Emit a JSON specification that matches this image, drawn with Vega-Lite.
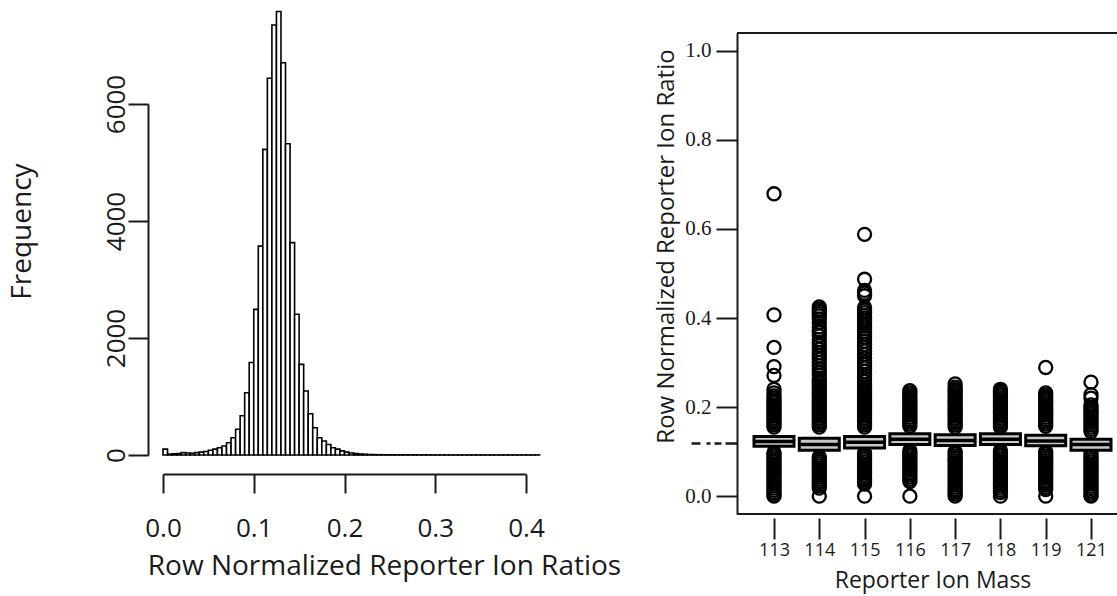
{
 "$schema": "https://vega.github.io/schema/vega-lite/v6.json",
 "padding": {"left": 8, "top": 10, "right": 0, "bottom": 4},
 "config": {"view": {"stroke": null}, "font": "Open Sans",
  "axis": {"grid": false, "domainColor": "#1a1a1a", "tickColor": "#1a1a1a", "labelColor": "#1a1a1a", "titleColor": "#1a1a1a", "titleFontWeight": "normal", "labelOverlap": false, "labelFlush": false}},
 "datasets": {
  "hist": [
   {"lo":0.000,"hi":0.005,"n":100},{"lo":0.005,"hi":0.010,"n":15},{"lo":0.010,"hi":0.015,"n":20},{"lo":0.015,"hi":0.020,"n":25},
   {"lo":0.020,"hi":0.025,"n":40},{"lo":0.025,"hi":0.030,"n":35},{"lo":0.030,"hi":0.035,"n":30},{"lo":0.035,"hi":0.040,"n":40},
   {"lo":0.040,"hi":0.045,"n":50},{"lo":0.045,"hi":0.050,"n":60},{"lo":0.050,"hi":0.055,"n":80},{"lo":0.055,"hi":0.060,"n":100},
   {"lo":0.060,"hi":0.065,"n":125},{"lo":0.065,"hi":0.070,"n":155},{"lo":0.070,"hi":0.075,"n":210},{"lo":0.075,"hi":0.080,"n":295},
   {"lo":0.080,"hi":0.085,"n":440},{"lo":0.085,"hi":0.090,"n":670},{"lo":0.090,"hi":0.095,"n":1065},{"lo":0.095,"hi":0.100,"n":1580},
   {"lo":0.100,"hi":0.105,"n":2490},{"lo":0.105,"hi":0.110,"n":3570},{"lo":0.110,"hi":0.115,"n":5225},{"lo":0.115,"hi":0.120,"n":6440},
   {"lo":0.120,"hi":0.125,"n":7350},{"lo":0.125,"hi":0.130,"n":7580},{"lo":0.130,"hi":0.135,"n":6705},{"lo":0.135,"hi":0.140,"n":5320},
   {"lo":0.140,"hi":0.145,"n":3630},{"lo":0.145,"hi":0.150,"n":2405},{"lo":0.150,"hi":0.155,"n":1550},{"lo":0.155,"hi":0.160,"n":1095},
   {"lo":0.160,"hi":0.165,"n":705},{"lo":0.165,"hi":0.170,"n":465},{"lo":0.170,"hi":0.175,"n":295},{"lo":0.175,"hi":0.180,"n":240},
   {"lo":0.180,"hi":0.185,"n":180},{"lo":0.185,"hi":0.190,"n":125},{"lo":0.190,"hi":0.195,"n":100},{"lo":0.195,"hi":0.200,"n":70},
   {"lo":0.200,"hi":0.205,"n":50},{"lo":0.205,"hi":0.210,"n":35},{"lo":0.210,"hi":0.215,"n":25},{"lo":0.215,"hi":0.220,"n":18},
   {"lo":0.220,"hi":0.225,"n":12},{"lo":0.225,"hi":0.230,"n":8},{"lo":0.230,"hi":0.235,"n":6},{"lo":0.235,"hi":0.240,"n":5},
   {"lo":0.240,"hi":0.245,"n":4},{"lo":0.245,"hi":0.250,"n":3},{"lo":0.250,"hi":0.255,"n":3},{"lo":0.255,"hi":0.260,"n":2},
   {"lo":0.260,"hi":0.265,"n":2},{"lo":0.265,"hi":0.270,"n":2},{"lo":0.270,"hi":0.275,"n":2},{"lo":0.275,"hi":0.280,"n":2},
   {"lo":0.280,"hi":0.285,"n":1},{"lo":0.285,"hi":0.290,"n":2},{"lo":0.290,"hi":0.295,"n":1},{"lo":0.295,"hi":0.300,"n":1},
   {"lo":0.300,"hi":0.305,"n":1},{"lo":0.305,"hi":0.310,"n":1},{"lo":0.310,"hi":0.315,"n":1},{"lo":0.315,"hi":0.320,"n":1},
   {"lo":0.320,"hi":0.325,"n":1},{"lo":0.325,"hi":0.330,"n":1},{"lo":0.330,"hi":0.335,"n":1},{"lo":0.335,"hi":0.340,"n":1},
   {"lo":0.340,"hi":0.345,"n":1},{"lo":0.345,"hi":0.350,"n":1},{"lo":0.350,"hi":0.355,"n":1},{"lo":0.355,"hi":0.360,"n":1},
   {"lo":0.360,"hi":0.365,"n":1},{"lo":0.365,"hi":0.370,"n":1},{"lo":0.370,"hi":0.375,"n":1},{"lo":0.375,"hi":0.380,"n":1},
   {"lo":0.380,"hi":0.385,"n":1},{"lo":0.385,"hi":0.390,"n":1},{"lo":0.390,"hi":0.395,"n":1},{"lo":0.395,"hi":0.400,"n":1},
   {"lo":0.400,"hi":0.405,"n":1},{"lo":0.405,"hi":0.410,"n":1},{"lo":0.410,"hi":0.415,"n":1}
  ],
  "box": [
   {"m":"113","q1":0.112,"med":0.123,"q3":0.134},
   {"m":"114","q1":0.103,"med":0.116,"q3":0.130},
   {"m":"115","q1":0.108,"med":0.121,"q3":0.134},
   {"m":"116","q1":0.116,"med":0.128,"q3":0.140},
   {"m":"117","q1":0.114,"med":0.125,"q3":0.138},
   {"m":"118","q1":0.116,"med":0.128,"q3":0.140},
   {"m":"119","q1":0.113,"med":0.124,"q3":0.137},
   {"m":"121","q1":0.103,"med":0.116,"q3":0.128}
  ],
  "pts": [
   {"m":"113","v":0.679},{"m":"113","v":0.407},{"m":"113","v":0.334},{"m":"113","v":0.291},{"m":"113","v":0.271},{"m":"113","v":0.24},{"m":"113","v":0.232},
   {"m":"113","v":0.225},{"m":"113","v":0.22},{"m":"113","v":0.215},{"m":"113","v":0.21},{"m":"113","v":0.205},{"m":"113","v":0.2},{"m":"113","v":0.195},{"m":"113","v":0.19},{"m":"113","v":0.185},{"m":"113","v":0.18},{"m":"113","v":0.175},{"m":"113","v":0.17},{"m":"113","v":0.165},{"m":"113","v":0.16},{"m":"113","v":0.155},
   {"m":"113","v":0.098},{"m":"113","v":0.093},{"m":"113","v":0.088},{"m":"113","v":0.083},{"m":"113","v":0.078},{"m":"113","v":0.073},{"m":"113","v":0.068},{"m":"113","v":0.063},{"m":"113","v":0.058},{"m":"113","v":0.053},{"m":"113","v":0.048},{"m":"113","v":0.043},{"m":"113","v":0.038},{"m":"113","v":0.033},{"m":"113","v":0.028},{"m":"113","v":0.023},{"m":"113","v":0.018},{"m":"113","v":0.013},{"m":"113","v":0.008},{"m":"113","v":0.003},{"m":"113","v":0.0},
   {"m":"114","v":0.425},{"m":"114","v":0.42},{"m":"114","v":0.415},{"m":"114","v":0.41},{"m":"114","v":0.405},{"m":"114","v":0.398},{"m":"114","v":0.39},{"m":"114","v":0.38},{"m":"114","v":0.372},{"m":"114","v":0.367},{"m":"114","v":0.36},{"m":"114","v":0.352},{"m":"114","v":0.345},{"m":"114","v":0.338},{"m":"114","v":0.33},{"m":"114","v":0.322},{"m":"114","v":0.315},{"m":"114","v":0.308},{"m":"114","v":0.3},{"m":"114","v":0.293},{"m":"114","v":0.285},{"m":"114","v":0.278},{"m":"114","v":0.272},{"m":"114","v":0.265},{"m":"114","v":0.26},{"m":"114","v":0.255},{"m":"114","v":0.25},{"m":"114","v":0.245},{"m":"114","v":0.24},{"m":"114","v":0.235},{"m":"114","v":0.23},{"m":"114","v":0.225},{"m":"114","v":0.22},{"m":"114","v":0.215},{"m":"114","v":0.21},{"m":"114","v":0.205},{"m":"114","v":0.2},{"m":"114","v":0.195},{"m":"114","v":0.19},{"m":"114","v":0.185},{"m":"114","v":0.18},{"m":"114","v":0.175},{"m":"114","v":0.17},{"m":"114","v":0.165},{"m":"114","v":0.16},{"m":"114","v":0.155},
   {"m":"114","v":0.088},{"m":"114","v":0.083},{"m":"114","v":0.078},{"m":"114","v":0.073},{"m":"114","v":0.068},{"m":"114","v":0.063},{"m":"114","v":0.058},{"m":"114","v":0.053},{"m":"114","v":0.048},{"m":"114","v":0.043},{"m":"114","v":0.038},{"m":"114","v":0.033},{"m":"114","v":0.028},{"m":"114","v":0.023},{"m":"114","v":0.018},{"m":"114","v":0.0},
   {"m":"115","v":0.588},{"m":"115","v":0.487},{"m":"115","v":0.462},{"m":"115","v":0.456},{"m":"115","v":0.45},
   {"m":"115","v":0.424},{"m":"115","v":0.418},{"m":"115","v":0.412},{"m":"115","v":0.406},{"m":"115","v":0.4},{"m":"115","v":0.394},{"m":"115","v":0.388},{"m":"115","v":0.382},{"m":"115","v":0.376},{"m":"115","v":0.37},{"m":"115","v":0.364},{"m":"115","v":0.356},{"m":"115","v":0.348},{"m":"115","v":0.34},{"m":"115","v":0.333},{"m":"115","v":0.326},{"m":"115","v":0.318},{"m":"115","v":0.31},{"m":"115","v":0.302},{"m":"115","v":0.295},{"m":"115","v":0.288},{"m":"115","v":0.28},{"m":"115","v":0.272},{"m":"115","v":0.265},{"m":"115","v":0.258},{"m":"115","v":0.25},{"m":"115","v":0.245},{"m":"115","v":0.24},{"m":"115","v":0.235},{"m":"115","v":0.23},{"m":"115","v":0.225},{"m":"115","v":0.22},{"m":"115","v":0.215},{"m":"115","v":0.21},{"m":"115","v":0.205},{"m":"115","v":0.2},{"m":"115","v":0.195},{"m":"115","v":0.19},{"m":"115","v":0.185},{"m":"115","v":0.18},{"m":"115","v":0.175},{"m":"115","v":0.17},{"m":"115","v":0.165},{"m":"115","v":0.16},{"m":"115","v":0.155},
   {"m":"115","v":0.097},{"m":"115","v":0.092},{"m":"115","v":0.087},{"m":"115","v":0.082},{"m":"115","v":0.077},{"m":"115","v":0.072},{"m":"115","v":0.067},{"m":"115","v":0.062},{"m":"115","v":0.057},{"m":"115","v":0.052},{"m":"115","v":0.047},{"m":"115","v":0.042},{"m":"115","v":0.037},{"m":"115","v":0.032},{"m":"115","v":0.027},{"m":"115","v":0.0},
   {"m":"116","v":0.237},{"m":"116","v":0.232},{"m":"116","v":0.227},{"m":"116","v":0.222},{"m":"116","v":0.217},{"m":"116","v":0.212},{"m":"116","v":0.207},{"m":"116","v":0.202},{"m":"116","v":0.197},{"m":"116","v":0.192},{"m":"116","v":0.187},{"m":"116","v":0.182},{"m":"116","v":0.177},{"m":"116","v":0.172},{"m":"116","v":0.167},{"m":"116","v":0.162},{"m":"116","v":0.157},
   {"m":"116","v":0.103},{"m":"116","v":0.098},{"m":"116","v":0.093},{"m":"116","v":0.088},{"m":"116","v":0.083},{"m":"116","v":0.078},{"m":"116","v":0.073},{"m":"116","v":0.068},{"m":"116","v":0.063},{"m":"116","v":0.058},{"m":"116","v":0.053},{"m":"116","v":0.048},{"m":"116","v":0.043},{"m":"116","v":0.038},{"m":"116","v":0.033},{"m":"116","v":0.0},
   {"m":"117","v":0.252},{"m":"117","v":0.245},{"m":"117","v":0.24},{"m":"117","v":0.235},{"m":"117","v":0.23},{"m":"117","v":0.225},{"m":"117","v":0.22},{"m":"117","v":0.215},{"m":"117","v":0.21},{"m":"117","v":0.205},{"m":"117","v":0.2},{"m":"117","v":0.195},{"m":"117","v":0.19},{"m":"117","v":0.185},{"m":"117","v":0.18},{"m":"117","v":0.175},{"m":"117","v":0.17},{"m":"117","v":0.165},{"m":"117","v":0.16},{"m":"117","v":0.155},
   {"m":"117","v":0.1},{"m":"117","v":0.095},{"m":"117","v":0.09},{"m":"117","v":0.085},{"m":"117","v":0.08},{"m":"117","v":0.075},{"m":"117","v":0.07},{"m":"117","v":0.065},{"m":"117","v":0.06},{"m":"117","v":0.055},{"m":"117","v":0.05},{"m":"117","v":0.045},{"m":"117","v":0.04},{"m":"117","v":0.035},{"m":"117","v":0.03},{"m":"117","v":0.025},{"m":"117","v":0.02},{"m":"117","v":0.015},{"m":"117","v":0.01},{"m":"117","v":0.005},{"m":"117","v":0.0},
   {"m":"118","v":0.24},{"m":"118","v":0.235},{"m":"118","v":0.23},{"m":"118","v":0.225},{"m":"118","v":0.22},{"m":"118","v":0.215},{"m":"118","v":0.21},{"m":"118","v":0.205},{"m":"118","v":0.2},{"m":"118","v":0.195},{"m":"118","v":0.19},{"m":"118","v":0.185},{"m":"118","v":0.18},{"m":"118","v":0.175},{"m":"118","v":0.17},{"m":"118","v":0.165},{"m":"118","v":0.16},{"m":"118","v":0.155},
   {"m":"118","v":0.103},{"m":"118","v":0.098},{"m":"118","v":0.093},{"m":"118","v":0.088},{"m":"118","v":0.083},{"m":"118","v":0.078},{"m":"118","v":0.073},{"m":"118","v":0.068},{"m":"118","v":0.063},{"m":"118","v":0.058},{"m":"118","v":0.053},{"m":"118","v":0.048},{"m":"118","v":0.043},{"m":"118","v":0.038},{"m":"118","v":0.033},{"m":"118","v":0.028},{"m":"118","v":0.023},{"m":"118","v":0.018},{"m":"118","v":0.013},{"m":"118","v":0.008},{"m":"118","v":0.0},
   {"m":"119","v":0.289},{"m":"119","v":0.232},{"m":"119","v":0.227},{"m":"119","v":0.222},{"m":"119","v":0.217},{"m":"119","v":0.212},{"m":"119","v":0.207},{"m":"119","v":0.202},{"m":"119","v":0.197},{"m":"119","v":0.192},{"m":"119","v":0.187},{"m":"119","v":0.182},{"m":"119","v":0.177},{"m":"119","v":0.172},{"m":"119","v":0.167},{"m":"119","v":0.162},{"m":"119","v":0.157},
   {"m":"119","v":0.1},{"m":"119","v":0.095},{"m":"119","v":0.09},{"m":"119","v":0.085},{"m":"119","v":0.08},{"m":"119","v":0.075},{"m":"119","v":0.07},{"m":"119","v":0.065},{"m":"119","v":0.06},{"m":"119","v":0.055},{"m":"119","v":0.05},{"m":"119","v":0.045},{"m":"119","v":0.04},{"m":"119","v":0.035},{"m":"119","v":0.03},{"m":"119","v":0.025},{"m":"119","v":0.02},{"m":"119","v":0.015},{"m":"119","v":0.0},
   {"m":"121","v":0.256},{"m":"121","v":0.228},{"m":"121","v":0.22},{"m":"121","v":0.205},{"m":"121","v":0.2},{"m":"121","v":0.195},{"m":"121","v":0.19},{"m":"121","v":0.185},{"m":"121","v":0.18},{"m":"121","v":0.175},{"m":"121","v":0.17},{"m":"121","v":0.165},{"m":"121","v":0.16},{"m":"121","v":0.155},{"m":"121","v":0.15},{"m":"121","v":0.145},
   {"m":"121","v":0.097},{"m":"121","v":0.092},{"m":"121","v":0.087},{"m":"121","v":0.082},{"m":"121","v":0.077},{"m":"121","v":0.072},{"m":"121","v":0.067},{"m":"121","v":0.062},{"m":"121","v":0.057},{"m":"121","v":0.052},{"m":"121","v":0.047},{"m":"121","v":0.042},{"m":"121","v":0.037},{"m":"121","v":0.032},{"m":"121","v":0.027},{"m":"121","v":0.022},{"m":"121","v":0.017},{"m":"121","v":0.012},{"m":"121","v":0.007},{"m":"121","v":0.002},{"m":"121","v":0.0}
  ]
 },
 "bounds": "flush",
 "spacing": 211,
 "hconcat": [
  {
   "width": 363, "height": 422,
   "data": {"name": "hist"},
   "mark": {"type": "bar", "fill": "white", "stroke": "black", "strokeWidth": 1.6},
   "encoding": {
    "x": {"field": "lo", "type": "quantitative",
     "scale": {"domain": [0, 0.4], "nice": false, "zero": false},
     "axis": {"values": [0, 0.1, 0.2, 0.3, 0.4], "format": ".1f", "offset": 19, "tickSize": 19, "tickWidth": 2, "domainWidth": 2,
      "labelFontSize": 26, "labelPadding": 43, "labelBaseline": "alphabetic",
      "title": "Row Normalized Reporter Ion Ratios", "titleFontSize": 28, "titleX": 221, "titleY": 100, "titleAlign": "center", "titleBaseline": "alphabetic"}},
    "x2": {"field": "hi"},
    "y": {"field": "n", "type": "quantitative",
     "scale": {"domain": [0, 6000], "range": [422, 71], "nice": false},
     "axis": {"values": [0, 2000, 4000, 6000], "format": "d", "offset": 15, "tickSize": 20, "tickWidth": 2, "domainWidth": 2,
      "labelAngle": -90, "labelAlign": "center", "labelBaseline": "alphabetic", "labelPadding": 4, "labelFontSize": 26,
      "title": "Frequency", "titleFontSize": 28, "titleAngle": -90, "titleX": -118, "titleY": 198, "titleAlign": "center", "titleBaseline": "alphabetic"}},
    "y2": {"datum": 0}
   }
  },
  {
   "width": 380, "height": 481,
   "layer": [
    {"data": {"name": "pts"},
     "mark": {"type": "point", "shape": "circle", "filled": false, "stroke": "black", "strokeWidth": 2.3, "size": 170, "opacity": 1},
     "encoding": {
      "x": {"field": "m", "type": "ordinal", "scale": {"type": "point", "range": [37, 354], "padding": 0},
       "axis": {"orient": "bottom", "offset": 4, "tickSize": 21, "tickWidth": 2, "domain": false, "labelAngle": 0, "labelFontSize": 18,
        "labelBaseline": "alphabetic", "labelPadding": 16, "title": "Reporter Ion Mass", "titleFontSize": 23, "titleY": 69, "titleBaseline": "alphabetic"}},
      "y": {"field": "v", "type": "quantitative", "scale": {"domain": [-0.04, 1.04], "nice": false, "zero": false},
       "axis": {"orient": "left", "values": [0, 0.2, 0.4, 0.6, 0.8, 1.0], "format": ".1f", "tickSize": 21, "tickWidth": 2, "domainWidth": 2,
        "labelFont": "Liberation Serif", "labelFontSize": 21, "labelPadding": 5, "labelBaseline": "middle",
        "title": "Row Normalized Reporter Ion Ratio", "titleFontSize": 24, "titleAngle": -90, "titleX": -64, "titleY": 213, "titleAlign": "center", "titleBaseline": "alphabetic"}}
     }},
    {"data": {"name": "box"},
     "mark": {"type": "bar", "size": 40, "fill": "#c8c8c8", "stroke": "black", "strokeWidth": 3},
     "encoding": {
      "x": {"field": "m", "type": "ordinal"},
      "y": {"field": "q1", "type": "quantitative", "axis": null},
      "y2": {"field": "q3"}
     }},
    {"data": {"name": "box"},
     "mark": {"type": "tick", "size": 40, "thickness": 3.5, "color": "black", "opacity": 1},
     "encoding": {
      "x": {"field": "m", "type": "ordinal"},
      "y": {"field": "med", "type": "quantitative",
       "axis": {"orient": "left", "values": [0.12], "labels": false, "domain": false, "title": null, "tickSize": 48, "tickWidth": 2.5, "tickDash": [12, 4, 7, 4, 4, 6, 9, 20]}}
     }},
    {"data": {"values": [{}]},
     "mark": {"type": "rule", "color": "#1a1a1a", "strokeWidth": 2},
     "encoding": {"y": {"datum": -0.04, "type": "quantitative", "axis": null}}},
    {"data": {"values": [{}]},
     "mark": {"type": "rule", "color": "#1a1a1a", "strokeWidth": 2},
     "encoding": {"y": {"datum": 1.04, "type": "quantitative", "axis": null}}}
   ],
   "resolve": {"axis": {"y": "independent"}}
  }
 ]
}
